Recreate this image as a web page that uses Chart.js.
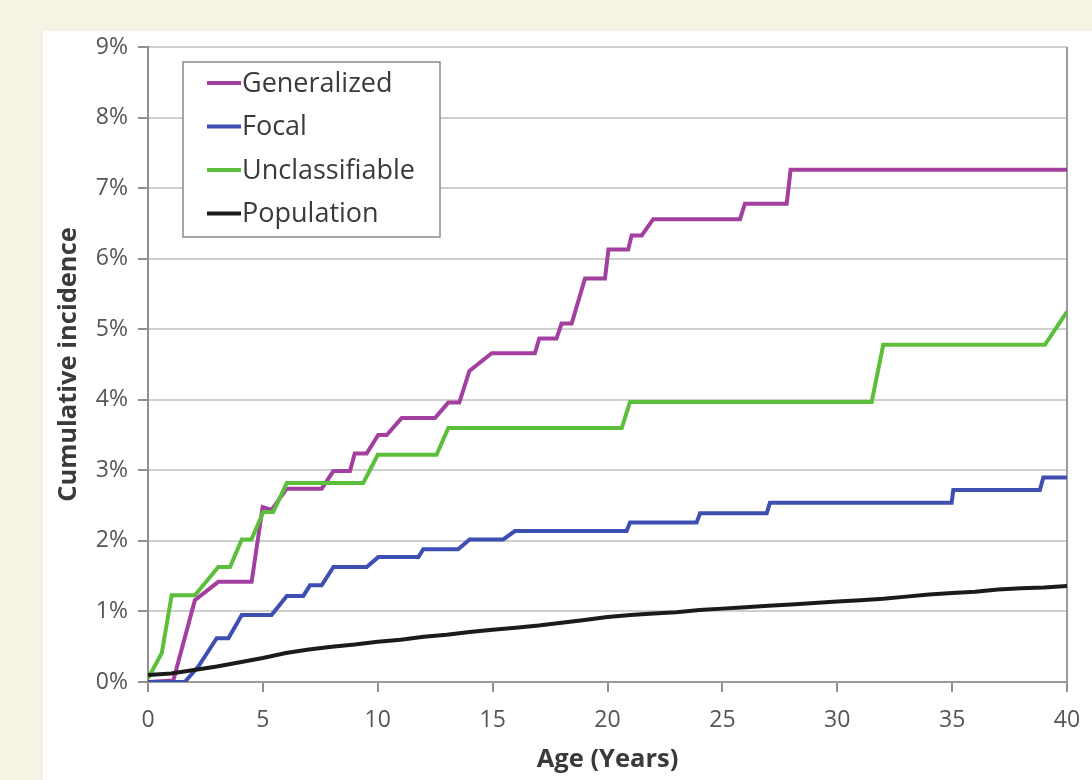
<!DOCTYPE html>
<html>
<head>
<meta charset="utf-8">
<script src="https://cdn.jsdelivr.net/npm/chart.js@4.4.1/dist/chart.umd.min.js"></script>
<style>
  html, body { margin: 0; padding: 0; background: #f6f2e4; }
  #panel { position: absolute; left: 43px; top: 31px; width: 1049px; height: 749px; background: #fff; }
</style>
</head>
<body>
<div id="panel"><canvas id="chart"></canvas></div>
<script>
// Edades (años) y porcentajes acumulados
const genAge = [0, 1.1, 2.04, 3.06, 4.51, 4.99, 5.38, 6.04, 7.56, 8.07, 8.79, 9.0, 9.52, 10.02, 10.39, 11.04, 12.49, 13.07, 13.55, 13.99, 14.96, 16.84, 17.03, 17.78, 18.0, 18.44, 19.02, 19.89, 20.04, 20.9, 21.05, 21.49, 21.99, 25.77, 25.98, 27.8, 27.97, 40];
const genPct = [0, 0.02, 1.16, 1.42, 1.42, 2.48, 2.44, 2.74, 2.74, 2.99, 2.99, 3.24, 3.24, 3.5, 3.5, 3.74, 3.74, 3.96, 3.96, 4.41, 4.66, 4.66, 4.87, 4.87, 5.08, 5.08, 5.72, 5.72, 6.13, 6.13, 6.33, 6.33, 6.56, 6.56, 6.78, 6.78, 7.26, 7.26];

const focalAge = [0, 1.6, 2.19, 2.99, 3.5, 4.08, 5.38, 6.04, 6.76, 7.05, 7.56, 8.07, 9.52, 10.02, 11.77, 11.98, 13.5, 14.0, 15.46, 15.97, 20.83, 20.98, 23.88, 24.03, 26.93, 27.07, 34.98, 35.05, 38.82, 38.97, 40];
const focalPct = [0, 0, 0.22, 0.62, 0.62, 0.95, 0.95, 1.22, 1.22, 1.37, 1.37, 1.63, 1.63, 1.77, 1.77, 1.88, 1.88, 2.02, 2.02, 2.14, 2.14, 2.26, 2.26, 2.39, 2.39, 2.54, 2.54, 2.72, 2.72, 2.9, 2.9];

const unclAge = [0, 0.6, 1.03, 2.04, 3.06, 3.57, 4.08, 4.5, 5.02, 5.45, 6.04, 9.37, 10.0, 12.56, 13.07, 20.62, 20.98, 31.5, 32.0, 39.04, 40];
const unclPct = [0.05, 0.41, 1.23, 1.23, 1.63, 1.63, 2.02, 2.02, 2.41, 2.41, 2.82, 2.82, 3.22, 3.22, 3.6, 3.6, 3.97, 3.97, 4.78, 4.78, 5.25];

const popAge = [0, 1, 2, 3, 4, 5, 6, 7, 8, 9, 10, 11, 12, 13, 14, 15, 16, 17, 18, 19, 20, 21, 22, 23, 24, 25, 26, 27, 28, 29, 30, 31, 32, 33, 34, 35, 36, 37, 38, 39, 40];
const popPct = [0.1, 0.12, 0.17, 0.22, 0.28, 0.34, 0.41, 0.46, 0.5, 0.53, 0.57, 0.6, 0.64, 0.67, 0.71, 0.74, 0.77, 0.8, 0.84, 0.88, 0.92, 0.95, 0.97, 0.99, 1.02, 1.04, 1.06, 1.08, 1.1, 1.12, 1.14, 1.16, 1.18, 1.21, 1.24, 1.26, 1.28, 1.31, 1.33, 1.34, 1.36];

const seriesLabels = ['Generalized', 'Focal', 'Unclassifiable', 'Population'];
const seriesColors = ['#a3409f', '#3e4fb1', '#5cbf3b', '#1b1b1b'];

const toPoints = (xs, ys) => xs.map((x, i) => ({ x: x, y: ys[i] }));
const seriesPoints = [
    toPoints(genAge, genPct),
    toPoints(focalAge, focalPct),
    toPoints(unclAge, unclPct),
    toPoints(popAge, popPct)
];

const fontFamily = "'Open Sans', sans-serif";

// Borde derecho del área de trazado y leyenda con recuadro dentro del gráfico
const frameLegendPlugin = {
    id: 'frameLegend',
    beforeDatasetsDraw(chart) {
        const { ctx, chartArea: { right, top, bottom } } = chart;
        ctx.save();
        ctx.strokeStyle = '#9a9a9a';
        ctx.lineWidth = 2;
        ctx.beginPath();
        ctx.moveTo(right, top);
        ctx.lineTo(right, bottom);
        ctx.stroke();
        ctx.restore();
    },
    afterDraw(chart) {
        const { ctx, chartArea: { left, top } } = chart;
        const bx = left + 35, by = top + 15, bw = 257, bh = 175;
        ctx.save();
        ctx.fillStyle = '#ffffff';
        ctx.fillRect(bx, by, bw, bh);
        ctx.strokeStyle = '#8a8a8a';
        ctx.lineWidth = 1.5;
        ctx.strokeRect(bx, by, bw, bh);
        ctx.font = "27px " + fontFamily;
        ctx.textBaseline = 'middle';
        ctx.textAlign = 'left';
        seriesLabels.forEach((label, i) => {
            const y = by + 21 + i * 43.5;
            ctx.strokeStyle = seriesColors[i];
            ctx.lineWidth = 4;
            ctx.beginPath();
            ctx.moveTo(bx + 24, y);
            ctx.lineTo(bx + 58, y);
            ctx.stroke();
            ctx.fillStyle = '#3a3a3a';
            ctx.fillText(label, bx + 59, y + 1);
        });
        ctx.restore();
    }
};

new Chart(document.getElementById('chart'), {
    type: 'scatter',
    data: {
        datasets: seriesPoints.map((pts, i) => ({
            label: seriesLabels[i],
            data: pts,
            showLine: true,
            borderColor: seriesColors[i],
            backgroundColor: seriesColors[i],
            borderWidth: 4,
            pointRadius: 0,
            tension: 0,
            order: 4 - i
        }))
    },
    plugins: [frameLegendPlugin],
    options: {
        responsive: true,
        maintainAspectRatio: false,
        animation: false,
        layout: { padding: { top: 16, right: 25, left: 0, bottom: 0 } },
        plugins: {
            legend: { display: false },
            tooltip: { enabled: false }
        },
        scales: {
            x: {
                type: 'linear',
                min: 0,
                max: 40,
                afterFit(scale) {
                    scale.height = 98;
                    scale.paddingLeft = 0;
                    scale.paddingRight = 0;
                },
                ticks: {
                    stepSize: 5,
                    padding: 15,
                    color: '#555555',
                    font: { family: fontFamily, size: 23 }
                },
                grid: {
                    drawOnChartArea: false,
                    drawTicks: true,
                    tickLength: 10,
                    tickColor: '#8f8f8f',
                    lineWidth: 2
                },
                border: { color: '#9a9a9a', width: 2 },
                title: {
                    display: true,
                    text: 'Age (Years)',
                    color: '#3a3a3a',
                    font: { family: fontFamily, size: 25.5, weight: 'bold' },
                    padding: { top: 0, bottom: 5 }
                }
            },
            y: {
                min: 0,
                max: 9,
                afterFit(scale) {
                    scale.width = 105;
                    scale.paddingTop = 0;
                    scale.paddingBottom = 0;
                },
                ticks: {
                    stepSize: 1,
                    padding: 10,
                    color: '#555555',
                    font: { family: fontFamily, size: 23 },
                    callback: (v) => v + '%'
                },
                grid: {
                    color: '#cfcfcf',
                    lineWidth: 2,
                    drawTicks: true,
                    tickLength: 10,
                    tickColor: '#8f8f8f'
                },
                border: { color: '#8f8f8f', width: 2 },
                title: {
                    display: true,
                    text: 'Cumulative incidence',
                    color: '#3a3a3a',
                    font: { family: fontFamily, size: 25.5, weight: 'bold' },
                    padding: { top: 10, bottom: 0 }
                }
            }
        }
    }
});
</script>
</body>
</html>
